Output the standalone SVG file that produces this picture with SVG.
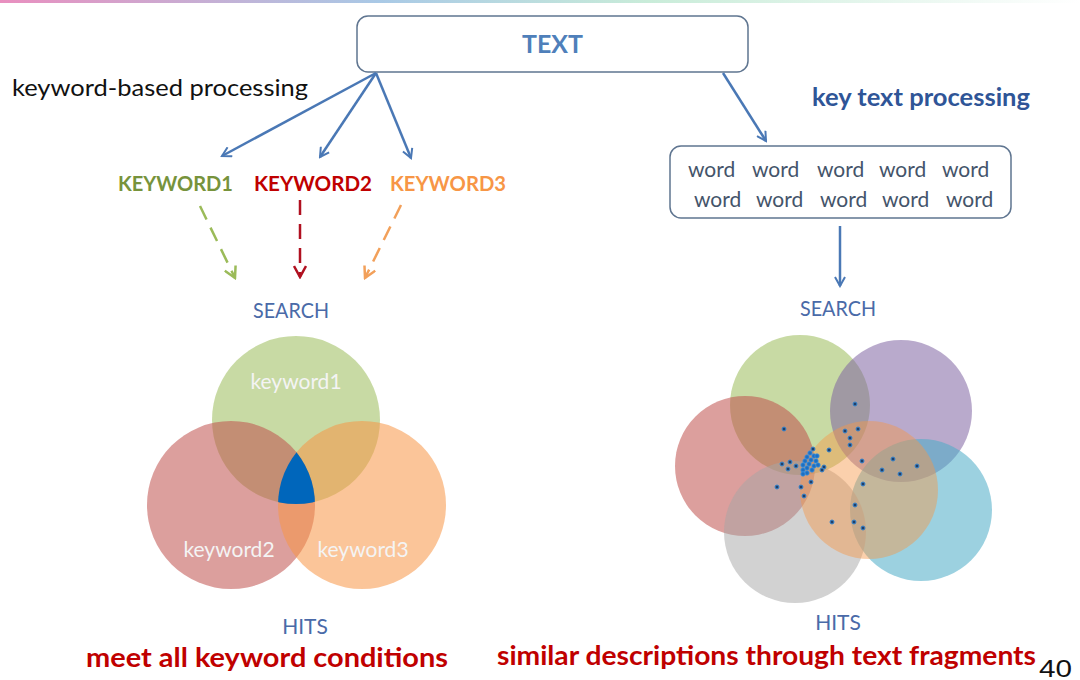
<svg xmlns="http://www.w3.org/2000/svg" width="1080" height="680" viewBox="0 0 1080 680">
<defs>
<linearGradient id="topbar" x1="0" y1="0" x2="1" y2="0">
<stop offset="0" stop-color="#e98fbf"/>
<stop offset="0.35" stop-color="#a9c9e6"/>
<stop offset="0.6" stop-color="#c9ecd9"/>
<stop offset="1" stop-color="#ffffff"/>
</linearGradient>
<marker id="ahBlue" viewBox="0 0 12 12" refX="10" refY="6" markerWidth="12" markerHeight="12" markerUnits="userSpaceOnUse" orient="auto">
<path d="M1,1 L10,6 L1,11" fill="none" stroke="#4a78b5" stroke-width="2"/>
</marker>
<marker id="ahGreen" viewBox="0 0 14 14" refX="12" refY="7" markerWidth="14" markerHeight="14" markerUnits="userSpaceOnUse" orient="auto">
<path d="M1,1 L12,7 L1,13" fill="none" stroke="#9bbb59" stroke-width="2.5"/>
</marker>
<marker id="ahRed" viewBox="0 0 14 14" refX="12" refY="7" markerWidth="14" markerHeight="14" markerUnits="userSpaceOnUse" orient="auto">
<path d="M1,1 L12,7 L1,13" fill="none" stroke="#b01020" stroke-width="2.5"/>
</marker>
<marker id="ahOrange" viewBox="0 0 14 14" refX="12" refY="7" markerWidth="14" markerHeight="14" markerUnits="userSpaceOnUse" orient="auto">
<path d="M1,1 L12,7 L1,13" fill="none" stroke="#f2a05a" stroke-width="2.5"/>
</marker>
<clipPath id="clipRed"><circle cx="231" cy="505" r="84"/></clipPath>
<clipPath id="clipOrange"><circle cx="362" cy="505" r="84"/></clipPath>
</defs>
<style>
text{font-family:Lato,"Open Sans","Liberation Sans",sans-serif}
text.num{font-family:"Liberation Sans",Arial,sans-serif}
.box{fill:#fff;stroke:#5f7590;stroke-width:1.5}
.conn{stroke:#4a78b5;stroke-width:2.5;fill:none}
.lbl{fill:#4a6aa8;font-size:21px;text-anchor:middle}
.kw{font-weight:bold;font-size:20px}
.vlab{fill:#f4f4f4;font-size:21px;text-anchor:middle}
.word{fill:#44546a;font-size:21px}
.red{fill:#c00000;font-weight:bold;font-size:27px}
.dot{fill:#1f3f6a;stroke:#3a88d0;stroke-width:1}
.cdot{fill:#1f6fc0;stroke:#3a90e0;stroke-width:0.8}
</style>
<rect x="0" y="0" width="1080" height="3" fill="url(#topbar)"/>

<g id="text-node">
<rect class="box" x="357" y="16" width="391" height="56" rx="11"/>
<text x="522" y="53" fill="#4f7fba" font-size="25" font-weight="bold" textLength="61" lengthAdjust="spacingAndGlyphs">TEXT</text>
</g>

<g id="label-keyword-processing">
<text x="12" y="96" fill="#111" font-size="24" textLength="296" lengthAdjust="spacingAndGlyphs">keyword-based processing</text>
</g>
<g id="label-keytext-processing">
<text x="812" y="106" fill="#2f5597" font-size="24" font-weight="bold" textLength="218" lengthAdjust="spacingAndGlyphs">key text processing</text>
</g>

<g id="keyword1"><text class="kw" x="118" y="191" fill="#77933c" textLength="115" lengthAdjust="spacingAndGlyphs">KEYWORD1</text></g>
<g id="keyword2"><text class="kw" x="254" y="191" fill="#c00000" textLength="118" lengthAdjust="spacingAndGlyphs">KEYWORD2</text></g>
<g id="keyword3"><text class="kw" x="390" y="191" fill="#f79646" textLength="116" lengthAdjust="spacingAndGlyphs">KEYWORD3</text></g>

<g id="search-left"><text class="lbl" x="291" y="318" textLength="76" lengthAdjust="spacingAndGlyphs">SEARCH</text></g>

<g id="venn-left">
<circle cx="296" cy="420" r="84" fill="#9bbb59" fill-opacity="0.55"/>
<circle cx="231" cy="505" r="84" fill="#c0504d" fill-opacity="0.55"/>
<circle cx="362" cy="505" r="84" fill="#f79646" fill-opacity="0.55"/>
<g clip-path="url(#clipOrange)"><circle cx="296" cy="420" r="84" fill="#0066bb" clip-path="url(#clipRed)"/></g>
<text class="vlab" x="296" y="389">keyword1</text>
<text class="vlab" x="229" y="557">keyword2</text>
<text class="vlab" x="363" y="557">keyword3</text>
</g>

<g id="hits-left"><text class="lbl" x="305" y="634">HITS</text></g>
<g id="result-left"><text class="red" x="86" y="667" textLength="362" lengthAdjust="spacingAndGlyphs">meet all keyword conditions</text></g>

<g id="words-node">
<rect class="box" x="670" y="146" width="341" height="72" rx="11"/>
<g class="word">
<text x="688" y="177">word</text><text x="752" y="177">word</text><text x="817" y="177">word</text><text x="879" y="177">word</text><text x="942" y="177">word</text>
<text x="694" y="207">word</text><text x="756" y="207">word</text><text x="820" y="207">word</text><text x="882" y="207">word</text><text x="946" y="207">word</text>
</g>
</g>

<g id="search-right"><text class="lbl" x="838" y="316" textLength="76" lengthAdjust="spacingAndGlyphs">SEARCH</text></g>

<g id="venn-right">
<circle cx="800" cy="405" r="70" fill="#9bbb59" fill-opacity="0.55"/>
<circle cx="901" cy="411" r="71" fill="#8064a2" fill-opacity="0.55"/>
<circle cx="745" cy="466" r="70" fill="#c0504d" fill-opacity="0.55"/>
<circle cx="921" cy="510" r="71" fill="#4bacc6" fill-opacity="0.55"/>
<circle cx="795" cy="532" r="71" fill="#a5a5a5" fill-opacity="0.5"/>
<circle cx="869" cy="490" r="69" fill="#f79646" fill-opacity="0.45"/>
<g>
<circle class="dot" cx="855" cy="404" r="2"/>
<circle class="dot" cx="784" cy="429" r="2"/>
<circle class="dot" cx="845" cy="431" r="2"/>
<circle class="dot" cx="858" cy="429" r="2"/>
<circle class="dot" cx="850" cy="438" r="2"/>
<circle class="dot" cx="850" cy="445" r="2"/>
<circle class="dot" cx="813" cy="449" r="2"/>
<circle class="dot" cx="829" cy="450" r="2"/>
<circle class="dot" cx="782" cy="464" r="2"/>
<circle class="dot" cx="790" cy="462" r="2"/>
<circle class="dot" cx="796" cy="466" r="2"/>
<circle class="dot" cx="788" cy="469" r="2"/>
<circle class="dot" cx="862" cy="461" r="2"/>
<circle class="dot" cx="893" cy="459" r="2"/>
<circle class="dot" cx="917" cy="466" r="2"/>
<circle class="dot" cx="882" cy="470" r="2"/>
<circle class="dot" cx="900" cy="474" r="2"/>
<circle class="dot" cx="824" cy="467" r="2"/>
<circle class="dot" cx="822" cy="470" r="2"/>
<circle class="dot" cx="811" cy="482" r="2"/>
<circle class="dot" cx="777" cy="487" r="2"/>
<circle class="dot" cx="801" cy="487" r="2"/>
<circle class="dot" cx="804" cy="496" r="2"/>
<circle class="dot" cx="863" cy="484" r="2"/>
<circle class="dot" cx="855" cy="505" r="2"/>
<circle class="dot" cx="832" cy="522" r="2"/>
<circle class="dot" cx="854" cy="522" r="2"/>
<circle class="dot" cx="863" cy="528" r="2"/>
<circle class="cdot" cx="810" cy="453" r="2.2"/>
<circle class="cdot" cx="814" cy="456" r="2.2"/>
<circle class="cdot" cx="807" cy="457" r="2.2"/>
<circle class="cdot" cx="811" cy="460" r="2.2"/>
<circle class="cdot" cx="816" cy="461" r="2.2"/>
<circle class="cdot" cx="805" cy="461" r="2.2"/>
<circle class="cdot" cx="809" cy="464" r="2.2"/>
<circle class="cdot" cx="814" cy="466" r="2.2"/>
<circle class="cdot" cx="803" cy="465" r="2.2"/>
<circle class="cdot" cx="807" cy="468" r="2.2"/>
<circle class="cdot" cx="812" cy="470" r="2.2"/>
<circle class="cdot" cx="803" cy="470" r="2.2"/>
<circle class="cdot" cx="807" cy="473" r="2.2"/>
<circle class="cdot" cx="817" cy="456" r="2.2"/>
<circle class="cdot" cx="803" cy="474" r="2.2"/>
<circle class="cdot" cx="818" cy="465" r="2.2"/>
</g>
</g>

<g id="hits-right"><text class="lbl" x="838" y="630">HITS</text></g>
<g id="result-right"><text class="red" x="497" y="665" textLength="539" lengthAdjust="spacingAndGlyphs">similar descriptions through text fragments</text></g>
<g id="page-number"><text class="num" x="1039" y="677" fill="#111" font-size="23" textLength="33" lengthAdjust="spacingAndGlyphs">40</text></g>

<g id="connectors">
<line class="conn" x1="376" y1="73" x2="222" y2="156" marker-end="url(#ahBlue)"/>
<line class="conn" x1="376" y1="73" x2="320" y2="157" marker-end="url(#ahBlue)"/>
<line class="conn" x1="376" y1="73" x2="411" y2="158" marker-end="url(#ahBlue)"/>
<line class="conn" x1="723" y1="73" x2="766" y2="141" marker-end="url(#ahBlue)"/>
<line class="conn" x1="840" y1="226" x2="840" y2="286" marker-end="url(#ahBlue)"/>
<line x1="200" y1="206" x2="235" y2="278" stroke="#9bbb59" stroke-width="2.5" stroke-dasharray="15,9" marker-end="url(#ahGreen)"/>
<line x1="300" y1="200" x2="300" y2="277" stroke="#b01020" stroke-width="2.5" stroke-dasharray="15,9" marker-end="url(#ahRed)"/>
<line x1="401" y1="205" x2="365" y2="278" stroke="#f2a05a" stroke-width="2.5" stroke-dasharray="15,9" marker-end="url(#ahOrange)"/>
</g>
</svg>
